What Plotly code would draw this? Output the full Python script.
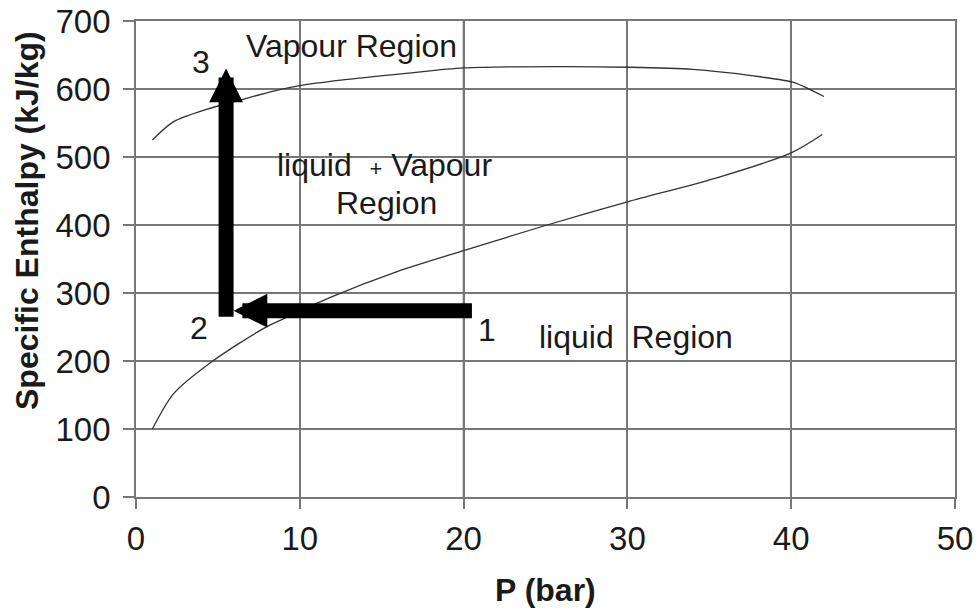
import plotly.graph_objects as go

# ---- data ----
P_liq = [1.0, 2.3, 4.75, 7.8, 9.0, 11.9, 15.9, 20.1, 25.1, 30.0, 35.4, 40.0, 41.9]
h_liq = [100, 152, 201, 248, 262, 294, 331, 363, 400, 434, 469, 506, 533]

P_vap = [1.0, 2.3, 4.3, 6.4, 8.4, 10.0, 12.5, 16.5, 20.0, 25.9, 30.1, 34.0, 36.1, 38.1, 40.1, 41.0, 42.0]
h_vap = [525, 552, 570, 584, 597, 605, 613, 623, 631, 633, 632, 629, 624, 618, 610, 601, 589]

# process points 1 -> 2 -> 3
cycle_P = [20.6, 5.5, 5.5]
cycle_h = [274, 274, 630]
cycle_labels = ["1", "2", "3"]
label_P = [21.4, 3.85, 3.95]
label_h = [246, 248, 639]

x_ticks = [0, 10, 20, 30, 40, 50]
y_ticks = [0, 100, 200, 300, 400, 500, 600, 700]

FONT = "Liberation Sans, Arial, sans-serif"
TXT = "#1a1a1a"

# plot geometry (px) for small pixel offsets of the arrows
L, R, T, B = 136, 24, 21, 113
W, H = 979, 610
px_per_P = (W - L - R) / 50.0
px_per_h = (H - T - B) / 700.0
half_shaft = 7.5

fig = go.Figure()

curve_line = dict(color="#333333", width=1.3, shape="spline", smoothing=0.8)
fig.add_trace(go.Scatter(x=P_liq, y=h_liq, mode="lines", line=curve_line,
                         showlegend=False, hoverinfo="skip"))
fig.add_trace(go.Scatter(x=P_vap, y=h_vap, mode="lines", line=curve_line,
                         showlegend=False, hoverinfo="skip"))

annotations = []
# arrow 1 -> 2 (horizontal)
annotations.append(dict(
    x=cycle_P[1] + half_shaft / px_per_P, y=cycle_h[1],
    ax=cycle_P[0], ay=cycle_h[0], xref="x", yref="y", axref="x", ayref="y",
    text="", showarrow=True, arrowhead=2, arrowsize=0.45, arrowwidth=15,
    arrowcolor="black", standoff=0, startstandoff=0))
# arrow 2 -> 3 (vertical)
annotations.append(dict(
    x=cycle_P[2], y=cycle_h[2],
    ax=cycle_P[1], ay=cycle_h[1] - half_shaft / px_per_h, xref="x", yref="y", axref="x", ayref="y",
    text="", showarrow=True, arrowhead=2, arrowsize=0.45, arrowwidth=15,
    arrowcolor="black", standoff=0, startstandoff=0))

for lab, xp, yh in zip(cycle_labels, label_P, label_h):
    annotations.append(dict(x=xp, y=yh, xref="x", yref="y", text=lab, showarrow=False,
                            xanchor="center", yanchor="middle",
                            font=dict(family=FONT, size=32, color=TXT)))

# region labels
region_font = dict(family=FONT, size=32, color=TXT)
annotations += [
    dict(x=13.15, y=663, text="Vapour Region"),
    dict(x=15.2, y=488, text="liquid  <span style='font-size:22px'>+</span> Vapour"),
    dict(x=15.3, y=433, text="Region"),
    dict(x=30.5, y=236, text="liquid  Region"),
]
for a in annotations[-4:]:
    a.update(xref="x", yref="y", showarrow=False, font=region_font,
             xanchor="center", yanchor="middle")

# axis titles
annotations.append(dict(x=(27 - L) / (W - L - R), y=(H - B - 221) / (H - T - B), xref="paper", yref="paper",
                        xanchor="center", yanchor="middle",
                        text="<b>Specific Enthalpy (kJ/kg)</b>", textangle=-90, showarrow=False,
                        font=dict(family=FONT, size=32, color=TXT)))
annotations.append(dict(x=0.5, y=(H - B - 590) / (H - T - B), xref="paper", yref="paper",
                        xanchor="center", yanchor="middle",
                        text="<b>P (bar)</b>", showarrow=False,
                        font=dict(family=FONT, size=32, color=TXT)))

GRID = "#777777"
fig.update_layout(
    width=W, height=H,
    margin=dict(l=L, r=R, t=T, b=B, pad=0, autoexpand=False),
    paper_bgcolor="white", plot_bgcolor="white",
    annotations=annotations,
    shapes=[dict(type="line", xref="x", yref="y", x0=20, x1=20, y0=0, y1=700,
                 line=dict(color="#222222", width=1.6), layer="below")],
    xaxis=dict(range=[0, 50], tickvals=x_ticks, ticktext=[str(v) for v in x_ticks],
               automargin=False,
               showgrid=True, gridcolor=GRID, gridwidth=1.8,
               showline=True, linecolor=GRID, linewidth=1.8, mirror=True,
               zeroline=True, zerolinecolor="#222222", zerolinewidth=2,
               ticks="outside", ticklen=10, tickcolor=GRID, tickwidth=1.8,
               ticklabelstandoff=1,
               tickfont=dict(family=FONT, size=33, color=TXT)),
    yaxis=dict(range=[0, 700], tickvals=y_ticks, ticktext=[str(v) for v in y_ticks],
               automargin=False,
               showgrid=True, gridcolor=GRID, gridwidth=1.8,
               showline=True, linecolor=GRID, linewidth=1.8, mirror=True,
               zeroline=False,
               ticks="outside", ticklen=11, tickcolor=GRID, tickwidth=1.8,
               ticklabelstandoff=6,
               tickfont=dict(family=FONT, size=33, color=TXT)),
)

fig.write_html("out.html", config={"displayModeBar": False},
               post_script="document.body.style.margin='0px';document.body.style.overflow='hidden';")
